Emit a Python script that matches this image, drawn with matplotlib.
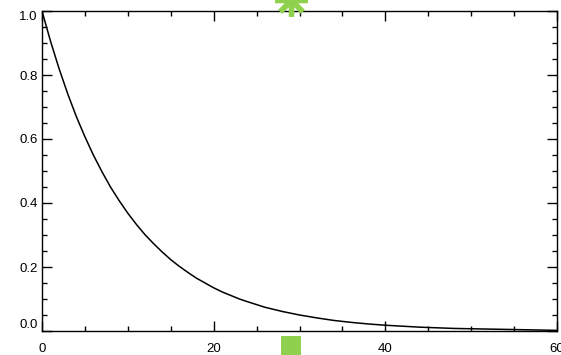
import matplotlib
matplotlib.use('Agg')
import matplotlib.pyplot as plt
from matplotlib.ticker import MultipleLocator

# decay curve: finer sampling where it bends most
x_vals = [0, 1, 2, 3, 4, 5, 6, 7, 8, 9, 10, 11, 12, 13, 14, 15, 16, 17, 18,
          19, 20, 21, 22, 23, 24, 26, 28, 30, 32, 34, 36, 38, 40, 42, 44,
          46, 48, 50, 52, 54, 56, 58, 60]
y_vals = [1.000, 0.905, 0.819, 0.741, 0.670, 0.607, 0.549, 0.497, 0.449,
          0.407, 0.368, 0.333, 0.301, 0.273, 0.247, 0.223, 0.202, 0.183,
          0.165, 0.150, 0.135, 0.122, 0.111, 0.100, 0.091, 0.074, 0.061,
          0.050, 0.041, 0.033, 0.027, 0.022, 0.018, 0.015, 0.012, 0.010,
          0.008, 0.007, 0.006, 0.005, 0.004, 0.003, 0.002]

# position markers drawn just outside the plot box
marker_x = 29
marker_top_y = 1.034
marker_bottom_y = -0.047

green = '#8fd14f'

plt.rcParams['font.family'] = ['Liberation Sans', 'DejaVu Sans']

fig = plt.figure(figsize=(5.61, 3.55), dpi=100)
ax = fig.add_axes([42 / 561, 24 / 355, 515 / 561, 320 / 355])

ax.plot(x_vals, y_vals, color='black', lw=1.1)

ax.plot([marker_x], [marker_top_y], marker=(8, 2, 0), markersize=23,
        markeredgewidth=3.8, color=green, clip_on=False, zorder=5)
ax.plot([marker_x], [marker_bottom_y], marker='s', markersize=14.4,
        markeredgewidth=0, color=green, clip_on=False, zorder=5)

ax.set_xlim(0, 60)
ax.set_ylim(0, 1.0)
ax.xaxis.set_major_locator(MultipleLocator(20))
ax.xaxis.set_minor_locator(MultipleLocator(5))
ax.yaxis.set_major_locator(MultipleLocator(0.2))
ax.yaxis.set_minor_locator(MultipleLocator(0.05))
ax.yaxis.set_major_formatter(lambda v, p: f'{v:.1f}')

ax.tick_params(which='both', direction='in', top=True, right=True,
               width=1, colors='black', labelsize=9.5)
ax.tick_params(which='major', length=7.2)
ax.tick_params(which='minor', length=3.6)
ax.tick_params(axis='x', pad=8.5)
ax.tick_params(axis='y', pad=3)

for s in ax.spines.values():
    s.set_linewidth(1)

# keep the end labels inside the box height
fig.canvas.draw()
for tick in ax.yaxis.get_major_ticks():
    loc = round(tick.get_loc(), 2)
    if loc == 0.0:
        tick.label1.set_va('bottom')
    elif loc == 1.0:
        tick.label1.set_va('top')

fig.savefig('out.png', dpi=100)
